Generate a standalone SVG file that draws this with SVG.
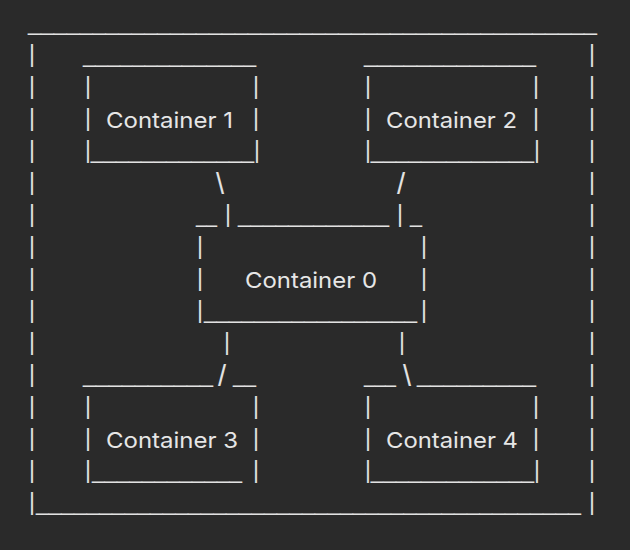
<svg xmlns="http://www.w3.org/2000/svg" width="630" height="550" viewBox="0 0 630 550">
<style>
.g{font-family:"Liberation Sans",Arial,sans-serif;font-size:23px;fill:#e2e2e2}
.p{text-anchor:middle}
.s{font-size:29px;text-anchor:middle}
.l{font-family:Inter,"Liberation Sans",Arial,sans-serif;font-size:22px;fill:#e6e6e6}
</style>
<rect width="630" height="550" fill="#2a2a2a"/>
<g id="outer" class="g">
<text x="28" y="30" textLength="569" lengthAdjust="spacingAndGlyphs">____________________________________________</text>
<text class="p" x="32" y="62">|</text><text class="p" x="32" y="94">|</text><text class="p" x="32" y="126">|</text><text class="p" x="32" y="158">|</text><text class="p" x="32" y="190">|</text><text class="p" x="32" y="222">|</text><text class="p" x="32" y="254">|</text><text class="p" x="32" y="286">|</text><text class="p" x="32" y="318">|</text><text class="p" x="32" y="350">|</text><text class="p" x="32" y="382">|</text><text class="p" x="32" y="414">|</text><text class="p" x="32" y="446">|</text><text class="p" x="32" y="478">|</text><text class="p" x="32" y="510">|</text>
<text class="p" x="592" y="62">|</text><text class="p" x="592" y="94">|</text><text class="p" x="592" y="126">|</text><text class="p" x="592" y="158">|</text><text class="p" x="592" y="190">|</text><text class="p" x="592" y="222">|</text><text class="p" x="592" y="254">|</text><text class="p" x="592" y="286">|</text><text class="p" x="592" y="318">|</text><text class="p" x="592" y="350">|</text><text class="p" x="592" y="382">|</text><text class="p" x="592" y="414">|</text><text class="p" x="592" y="446">|</text><text class="p" x="592" y="478">|</text><text class="p" x="592" y="510">|</text>
<text x="36" y="510" textLength="545" lengthAdjust="spacingAndGlyphs">___________________________________________</text>
</g>
<g id="container-1" class="g">
<text x="83" y="62" textLength="173" lengthAdjust="spacingAndGlyphs">______________</text>
<text class="p" x="88" y="94">|</text><text class="p" x="256" y="94">|</text>
<text class="p" x="88" y="126">|</text><text class="p" x="256" y="126">|</text>
<text x="85" y="158" textLength="175" lengthAdjust="spacingAndGlyphs">|_____________|</text>
<text class="l" x="106" y="128" textLength="127" lengthAdjust="spacingAndGlyphs">Container 1</text>
</g>
<g id="container-2" class="g">
<text x="364" y="62" textLength="172" lengthAdjust="spacingAndGlyphs">_____________</text>
<text class="p" x="368" y="94">|</text><text class="p" x="536" y="94">|</text>
<text class="p" x="368" y="126">|</text><text class="p" x="536" y="126">|</text>
<text x="365" y="158" textLength="175" lengthAdjust="spacingAndGlyphs">|_____________|</text>
<text class="l" x="386" y="128" textLength="131" lengthAdjust="spacingAndGlyphs">Container 2</text>
</g>
<g id="container-0" class="g">
<text x="238" y="222" textLength="151" lengthAdjust="spacingAndGlyphs">____________</text>
<text class="p" x="200" y="254">|</text><text class="p" x="424" y="254">|</text>
<text class="p" x="200" y="286">|</text><text class="p" x="424" y="286">|</text>
<text class="p" x="200" y="318">|</text><text class="p" x="424" y="318">|</text>
<text x="204" y="318" textLength="213" lengthAdjust="spacingAndGlyphs">_________________</text>
<text class="l" x="245" y="288" textLength="132" lengthAdjust="spacingAndGlyphs">Container 0</text>
</g>
<g id="container-3" class="g">
<text x="83" y="382" textLength="130" lengthAdjust="spacingAndGlyphs">__________</text>
<text x="233" y="382" textLength="23" lengthAdjust="spacingAndGlyphs">__</text>
<text class="p" x="88" y="414">|</text><text class="p" x="256" y="414">|</text>
<text class="p" x="88" y="446">|</text><text class="p" x="256" y="446">|</text>
<text class="p" x="88" y="478">|</text><text class="p" x="256" y="478">|</text>
<text x="92" y="478" textLength="150" lengthAdjust="spacingAndGlyphs">____________</text>
<text class="l" x="106" y="448" textLength="132" lengthAdjust="spacingAndGlyphs">Container 3</text>
</g>
<g id="container-4" class="g">
<text x="364" y="382" textLength="32" lengthAdjust="spacingAndGlyphs">___</text>
<text x="417" y="382" textLength="119" lengthAdjust="spacingAndGlyphs">_________</text>
<text class="p" x="368" y="414">|</text><text class="p" x="536" y="414">|</text>
<text class="p" x="368" y="446">|</text><text class="p" x="536" y="446">|</text>
<text x="365" y="478" textLength="175" lengthAdjust="spacingAndGlyphs">|_____________|</text>
<text class="l" x="386" y="448" textLength="132" lengthAdjust="spacingAndGlyphs">Container 4</text>
</g>
<g id="connectors" class="g">
<text class="s" x="220" y="194">\</text>
<text class="s" x="401" y="194">/</text>
<text x="196" y="222" textLength="21" lengthAdjust="spacingAndGlyphs">__</text>
<text class="p" x="228" y="222">|</text>
<text class="p" x="400" y="222">|</text>
<text x="410" y="222" textLength="12" lengthAdjust="spacingAndGlyphs">_</text>
<text class="p" x="227" y="350">|</text>
<text class="p" x="402" y="350">|</text>
<text class="s" x="222" y="386">/</text>
<text class="s" x="407" y="386">\</text>
</g>
</svg>
